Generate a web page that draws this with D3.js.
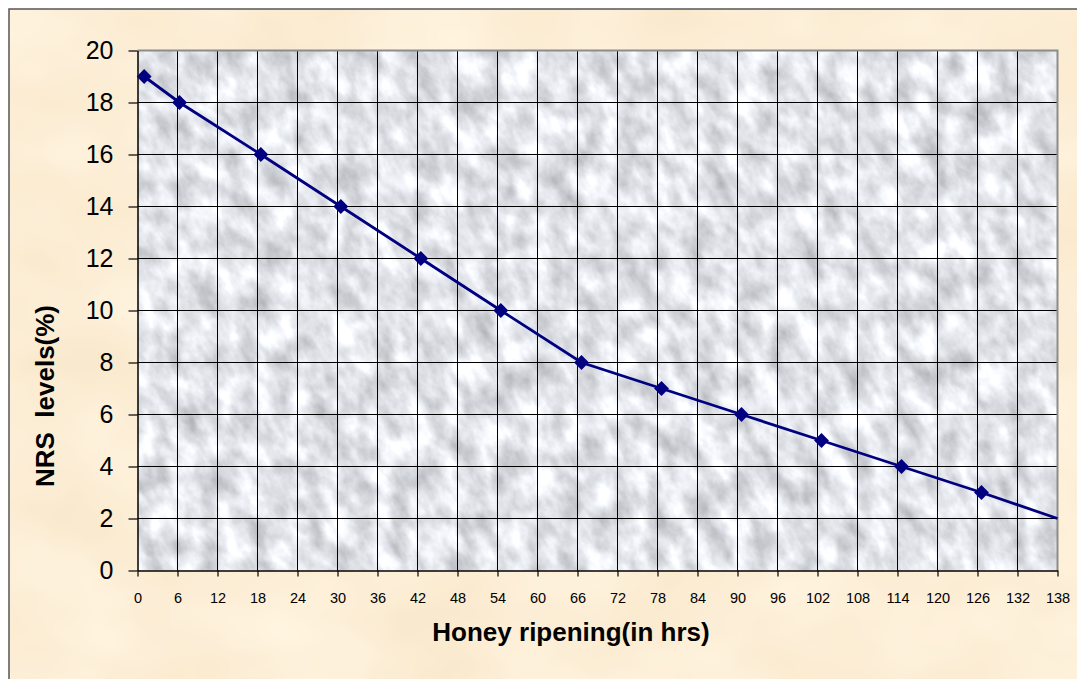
<!DOCTYPE html>
<html>
<head>
<meta charset="utf-8">
<script src="https://cdn.jsdelivr.net/npm/d3@7"></script>
<style>
  body { margin: 0; background: #fff; }
  text { font-family: Arial, "Liberation Sans", sans-serif; fill: #000; }
</style>
</head>
<body>
<div id="chart-area"></div>
<script>
// data
var hours = [1, 6.3, 18.5, 30.5, 42.5, 54.5, 66.6, 78.6, 90.6, 102.6, 114.6, 126.6, 138];
var nrs = [19, 18, 16, 14, 12, 10, 8, 7, 6, 5, 4, 3, 2];
var xTicks = d3.range(0, 139, 6);
var yTicks = d3.range(0, 21, 2);
var xTitle = "Honey ripening(in hrs)";
var yTitle = "NRS\u00a0 levels(%)";

var W = 1077, H = 679;
var margin = {left: 137.5, right: 19.5, top: 50.5, bottom: 108.5};
var width = W - margin.left - margin.right;
var height = H - margin.top - margin.bottom;

var svg = d3.select("#chart-area").append("svg")
    .attr("width", W)
    .attr("height", H);

var defs = svg.append("defs");

// cream paper mottling
var paper = defs.append("filter").attr("id", "paper")
    .attr("color-interpolation-filters", "sRGB")
    .attr("x", 0).attr("y", 0).attr("width", "100%").attr("height", "100%");
paper.append("feTurbulence")
    .attr("type", "fractalNoise")
    .attr("baseFrequency", "0.008 0.012")
    .attr("numOctaves", 3)
    .attr("seed", 4)
    .attr("result", "n");
paper.append("feColorMatrix")
    .attr("in", "n")
    .attr("type", "matrix")
    .attr("values", "0.04 0 0 0 0.97  0.06 0 0 0 0.905  0.1 0 0 0 0.79  0 0 0 0 1");

// marble texture for plot area
var marble = defs.append("filter").attr("id", "marble")
    .attr("color-interpolation-filters", "sRGB")
    .attr("x", 0).attr("y", 0).attr("width", "100%").attr("height", "100%");
marble.append("feTurbulence")
    .attr("type", "fractalNoise")
    .attr("baseFrequency", "0.05 0.03")
    .attr("numOctaves", 5)
    .attr("seed", 11)
    .attr("result", "n");
marble.append("feColorMatrix")
    .attr("in", "n")
    .attr("type", "matrix")
    .attr("values", "0.45 0 0 0 0.66  0.45 0 0 0 0.67  0.45 0 0 0 0.69  0 0 0 0 1");

defs.append("clipPath").attr("id", "plotClip")
  .append("rect")
    .attr("width", width)
    .attr("height", height);

// outer frame
svg.append("rect")
    .attr("x", 9).attr("y", 9)
    .attr("width", W + 20).attr("height", H + 20)
    .attr("filter", "url(#paper)");
svg.append("rect")
    .attr("x", 9).attr("y", 9)
    .attr("width", W + 20).attr("height", H + 20)
    .attr("fill", "none")
    .attr("stroke", "#555")
    .attr("stroke-width", 1.5);

var g = svg.append("g")
    .attr("transform", "translate(" + margin.left + "," + margin.top + ")");

var x = d3.scaleLinear().domain([0, 138]).range([0, width]);
var y = d3.scaleLinear().domain([0, 20]).range([height, 0]);

// plot background
var bg = g.append("g").attr("clip-path", "url(#plotClip)");
bg.append("rect")
    .attr("x", -200).attr("y", -200)
    .attr("width", width + 400).attr("height", height + 400)
    .attr("transform", "rotate(-30," + width / 2 + "," + height / 2 + ")")
    .attr("filter", "url(#marble)");

// grid
g.append("g")
    .selectAll("line.v")
    .data(xTicks.slice(1, -1))
    .enter().append("line")
    .attr("x1", d => x(d)).attr("x2", d => x(d))
    .attr("y1", 0).attr("y2", height)
    .attr("stroke", "#000").attr("stroke-width", 1);

g.append("g")
    .selectAll("line.h")
    .data(yTicks.slice(1, -1))
    .enter().append("line")
    .attr("x1", 0).attr("x2", width)
    .attr("y1", d => y(d)).attr("y2", d => y(d))
    .attr("stroke", "#000").attr("stroke-width", 1);

// grey frame on top and right
g.append("path")
    .attr("d", "M0,0H" + width + "V" + height)
    .attr("fill", "none")
    .attr("stroke", "#8c8c8c")
    .attr("stroke-width", 2);

// axes
var xAxisCall = d3.axisBottom(x).tickValues(xTicks).tickSize(6).tickPadding(16).tickSizeOuter(0);
var xAxisGroup = g.append("g")
    .attr("transform", "translate(0," + height + ")")
    .call(xAxisCall);
xAxisGroup.selectAll("text").attr("font-size", "14.5px").attr("font-family", "Arial, 'Liberation Sans', sans-serif");

var yAxisCall = d3.axisLeft(y).tickValues(yTicks).tickSize(9).tickPadding(15).tickSizeOuter(0);
var yAxisGroup = g.append("g").call(yAxisCall);
yAxisGroup.selectAll("text").attr("font-size", "25px").attr("font-family", "Arial, 'Liberation Sans', sans-serif");

svg.selectAll(".domain").attr("stroke", "#000").attr("stroke-width", 1.5);
svg.selectAll(".tick line").attr("stroke", "#000").attr("stroke-width", 1.2);

// titles
g.append("text")
    .attr("x", 571 - margin.left)
    .attr("y", 641 - margin.top)
    .attr("text-anchor", "middle")
    .attr("font-size", "26px")
    .attr("font-weight", "bold")
    .text(xTitle);

g.append("text")
    .attr("transform", "translate(" + (54 - margin.left) + "," + (396 - margin.top) + ") rotate(-90)")
    .attr("text-anchor", "middle")
    .attr("font-size", "26px")
    .attr("font-weight", "bold")
    .text(yTitle);

// line + markers
var pts = hours.map((h, i) => ({h: h, v: nrs[i]}));
var line = d3.line().x(d => x(d.h)).y(d => y(d.v));

g.append("path")
    .datum(pts)
    .attr("d", line)
    .attr("fill", "none")
    .attr("stroke", "#000080")
    .attr("stroke-width", 2.8);

var diamond = d3.symbol().type(d3.symbolSquare).size(110);
g.selectAll("path.marker")
    .data(pts.slice(0, -1))
    .enter().append("path")
    .attr("class", "marker")
    .attr("d", diamond)
    .attr("transform", d => "translate(" + x(d.h) + "," + y(d.v) + ") rotate(45)")
    .attr("fill", "#000080");
</script>
</body>
</html>
